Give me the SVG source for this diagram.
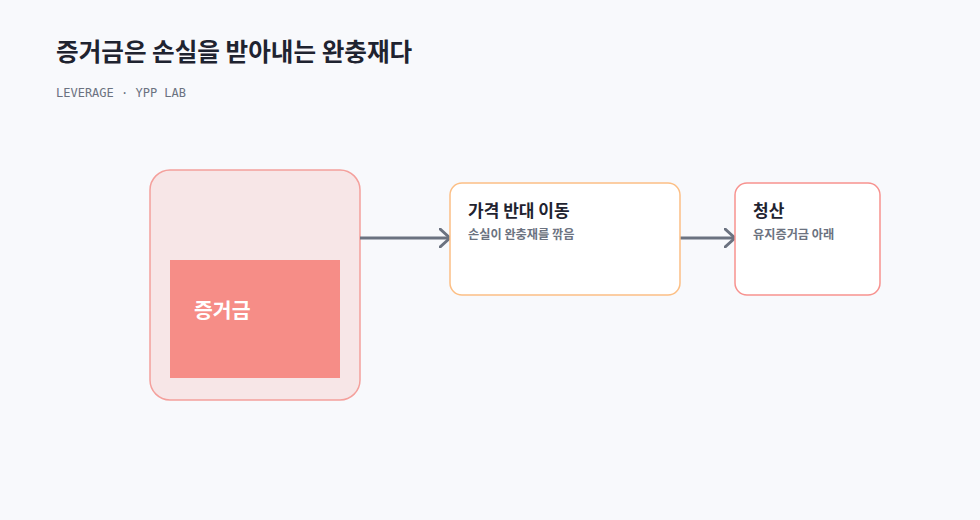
<svg xmlns="http://www.w3.org/2000/svg" width="980" height="520" viewBox="0 0 980 520">
<style>
.title{font-family:"Noto Sans CJK KR","Noto Sans",sans-serif;font-weight:700;font-size:24.6px;fill:#1f2330}
.sub{font-family:"DejaVu Sans Mono","Liberation Mono",monospace;font-size:12px;fill:#6b7280}
.nt{font-family:"Noto Sans CJK KR","Noto Sans",sans-serif;font-weight:700;font-size:17px;fill:#1f2330}
.ns{font-family:"Noto Sans CJK KR","Noto Sans",sans-serif;font-weight:700;font-size:12.2px;fill:#6b7280}
.card{fill:#ffffff;stroke-width:1.5}
.conn{stroke:#6b7280;stroke-width:3;fill:none}
</style>
<defs>
<marker id="arr" viewBox="0 0 12 20" refX="11" refY="10" markerWidth="12" markerHeight="20" markerUnits="userSpaceOnUse" orient="auto">
<path d="M1,1 L11,10 L1,19" fill="none" stroke="#6b7280" stroke-width="3" stroke-linecap="round" stroke-linejoin="round"/>
</marker>
</defs>
<rect width="980" height="520" fill="#f8f9fc"/>
<text class="title" x="56" y="61">증거금은 손실을 받아내는 완충재다</text>
<text class="sub" x="56" y="97">LEVERAGE · YPP LAB</text>
<g id="margin">
<rect x="150" y="170" width="210" height="230" rx="20" fill="#f7e6e7" stroke="#f4a09c" stroke-width="1.5"/>
<rect x="170" y="260" width="170" height="118" fill="#f68d87"/>
<text x="194" y="318" font-family="Noto Sans CJK KR, sans-serif" font-weight="700" font-size="20.5" fill="#ffffff">증거금</text>
</g>
<g id="connectors">
<line class="conn" x1="360" y1="238" x2="450" y2="238" marker-end="url(#arr)"/>
<line class="conn" x1="680" y1="238" x2="735" y2="238" marker-end="url(#arr)"/>
</g>
<g id="price-move">
<rect class="card" x="450" y="183" width="230" height="112" rx="12" stroke="#fcbf85"/>
<text class="nt" x="468" y="217">가격 반대 이동</text>
<text class="ns" x="468" y="239">손실이 완충재를 깎음</text>
</g>
<g id="liquidation">
<rect class="card" x="735" y="183" width="145" height="112" rx="12" stroke="#f7928f"/>
<text class="nt" x="753" y="217">청산</text>
<text class="ns" x="753" y="239">유지증거금 아래</text>
</g>
</svg>
